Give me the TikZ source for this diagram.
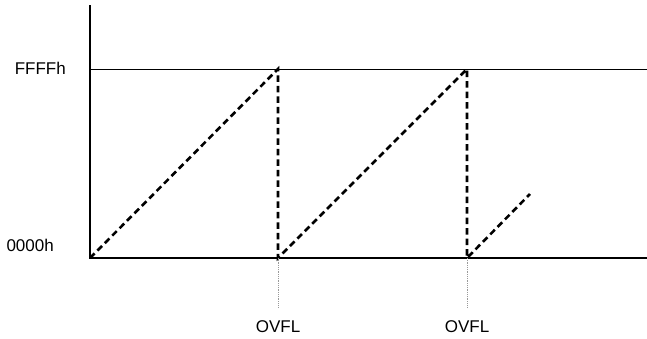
\documentclass[tikz,border=0pt]{standalone}
\usepackage{fontspec}
\setmainfont{Liberation Sans}
\usepackage{tikz}
\usetikzlibrary{calc}
\tikzset{
  axisline/.style = {black, line width=1.7pt},
  levelln/.style  = {black, line width=0.8pt},
  rampln/.style   = {black, line width=2.6pt, dash pattern=on 6.5pt off 4pt},
  tickln/.style   = {gray!80, line width=0.8pt, densely dotted},
  lbl/.style      = {font=\fontsize{17}{20}\selectfont, inner sep=0pt}
}
\begin{document}
\begin{tikzpicture}[x=1pt,y=-1pt]
  \useasboundingbox (0,0) rectangle (647,338);
  % axes and levels
  \coordinate (top)   at (90,5);
  \coordinate (orig)  at (90,258);
  \coordinate (xend)  at (647,258);
  \coordinate (full)  at (90,69);
  \coordinate (fend)  at (647,69);
  \draw[axisline] (top) -- (orig) -- (xend);
  \draw[levelln] (full) -- (fend);
  \node[lbl,anchor=east] (lffff) at (66,68) {FFFFh};
  \node[lbl,anchor=east] (lzero) at (54,245) {0000h};
  % counter ramps
  \coordinate (pk1) at (278,69);
  \coordinate (bt1) at (278,258);
  \coordinate (pk2) at (467,69);
  \coordinate (bt2) at (467,258);
  \coordinate (rmp) at (530,194);
  \draw[rampln] (orig) -- (pk1) -- (bt1) -- (pk2) -- (bt2) -- (rmp);
  % overflow marks
  \foreach \b/\n in {bt1/ov1,bt2/ov2}
  {
    \coordinate (t\n) at ($(\b)+(0,50)$);
    \draw[tickln] (\b) -- (t\n);
    \node[lbl] (\n) at ($(\b)+(0,69)$) {OVFL};
  }
\end{tikzpicture}
\end{document}
